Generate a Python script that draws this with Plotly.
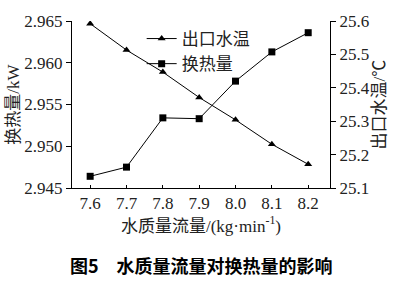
import plotly.graph_objects as go

x = [7.6, 7.7, 7.8, 7.9, 8.0, 8.1, 8.2]
heat = [2.9464, 2.9475, 2.9534, 2.9533, 2.9578, 2.9613, 2.9636]
temp = [25.592, 25.513, 25.447, 25.371, 25.304, 25.231, 25.171]
x_ticks = [7.6, 7.7, 7.8, 7.9, 8.0, 8.1, 8.2]
x_labels = ["7.6", "7.7", "7.8", "7.9", "8.0", "8.1", "8.2"]
y1_ticks = [2.945, 2.950, 2.955, 2.960, 2.965]
y1_labels = ["2.945", "2.950", "2.955", "2.960", "2.965"]
y2_ticks = [25.1, 25.2, 25.3, 25.4, 25.5, 25.6]
y2_labels = ["25.1", "25.2", "25.3", "25.4", "25.5", "25.6"]

FONT = "Liberation Serif, Times New Roman, Noto Sans CJK SC"

fig = go.Figure()
fig.add_trace(go.Scatter(x=x, y=temp, name="出口水温", yaxis="y2", mode="lines+markers",
                         line=dict(color="black", width=1),
                         marker=dict(symbol="triangle-up", size=7, color="black")))
fig.add_trace(go.Scatter(x=x, y=heat, name="换热量", mode="lines+markers",
                         line=dict(color="black", width=1),
                         marker=dict(symbol="square", size=7, color="black")))

fig.update_layout(
    width=400, height=284,
    margin=dict(l=72, r=70, t=14, b=96),
    paper_bgcolor="white", plot_bgcolor="white",
    font=dict(family=FONT, size=17, color="#222"),
    showlegend=True,
    legend=dict(x=0.27, y=1.0, xanchor="left", yanchor="top", bgcolor="rgba(0,0,0,0)",
                font=dict(size=17, family="Noto Sans CJK SC"), tracegroupgap=0,
                itemwidth=30),
    xaxis=dict(range=[7.55, 8.26], tickvals=x_ticks, ticktext=x_labels,
               showline=True, linecolor="black", linewidth=1, ticks="inside",
               ticklen=3, tickcolor="black", showgrid=False, zeroline=False,
               title=dict(text="水质量流量/(kg·min<sup>-1</sup>)", standoff=2,
                          font=dict(size=17))),
    yaxis=dict(range=[2.945, 2.965], tickvals=y1_ticks, ticktext=y1_labels,
               showline=True, linecolor="black", linewidth=1, ticks="outside",
               ticklen=5, tickcolor="black", showgrid=False, zeroline=False,
               title=dict(text="换热量/kW", standoff=0, font=dict(size=17))),
    yaxis2=dict(range=[25.1, 25.6], tickvals=y2_ticks, ticktext=y2_labels,
                overlaying="y", side="right",
                showline=True, linecolor="black", linewidth=1, ticks="outside",
                ticklen=5, tickcolor="black", showgrid=False, zeroline=False,
                title=dict(text="出口水温/℃", standoff=0, font=dict(size=17))),
)

fig.add_annotation(text="<b>图5　水质量流量对换热量的影响</b>", xref="paper", yref="paper",
                   x=0.5, y=-0.46, xanchor="center", yanchor="middle", showarrow=False,
                   font=dict(family="Noto Sans CJK SC", size=18, color="black"))

fig.write_html("out.html")
